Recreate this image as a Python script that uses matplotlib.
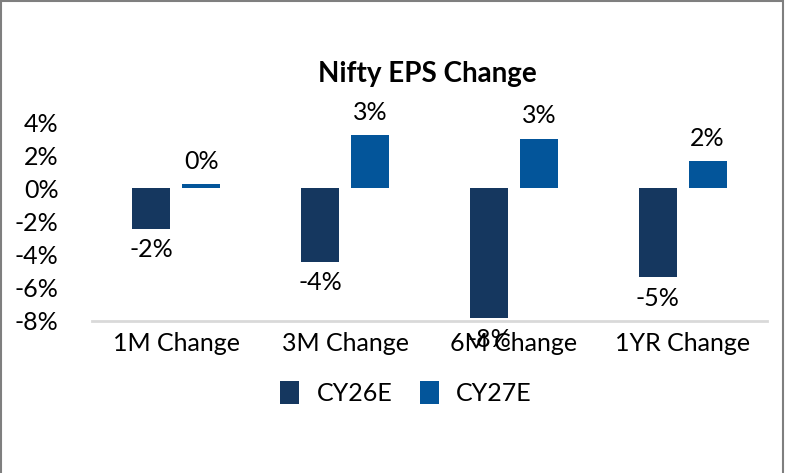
import matplotlib
matplotlib.use("Agg")
import matplotlib.pyplot as plt
from matplotlib.patches import Rectangle
import numpy as np

# ── Données ──
categories = ["1M Change", "3M Change", "6M Change", "1YR Change"]
cy26e = [-2.45, -4.45, -7.85, -5.4]
cy27e = [0.25, 3.2, 3.0, 1.65]
series_names = ["CY26E", "CY27E"]
y_ticks = [-8, -6, -4, -2, 0, 2, 4]

# ── Style ──
plt.rcParams["font.family"] = ["Lato", "DejaVu Sans"]
dark = "#15375F"
blue = "#03559A"
fs = 18

fig = plt.figure(figsize=(7.85, 4.73), dpi=100)
ax = fig.add_axes([92/785, 1 - 320.5/473, (767 - 92)/785, (320.5 - 122)/473])

x = np.arange(len(categories))
w = 0.225
off = 0.148
b1 = ax.bar(x - off, cy26e, w, color=dark, label=series_names[0])
b2 = ax.bar(x + off, cy27e, w, color=blue, label=series_names[1])

# étiquettes de données
for bars in (b1, b2):
    for bar in bars:
        v = bar.get_height()
        cx = bar.get_x() + bar.get_width() / 2
        if v >= 0:
            ax.annotate(f"{v:.0f}%", (cx, v), xytext=(0, 8), textcoords="offset points",
                        ha="center", va="bottom", fontsize=fs)
        else:
            ax.annotate(f"{round(v):.0f}%", (cx, v), xytext=(0, -7), textcoords="offset points",
                        ha="center", va="top", fontsize=fs)

ax.set_xlim(-0.5, 3.5)
ax.set_ylim(-8, 4)
ax.set_yticks(y_ticks)
ax.set_yticklabels([f"{t}%" for t in y_ticks], fontsize=fs)
ax.set_xticks(x)
ax.set_xticklabels(categories, fontsize=fs)
ax.tick_params(axis="y", length=0, pad=24)
ax.tick_params(axis="x", length=0, pad=8)
for s in ["top", "right", "left"]:
    ax.spines[s].set_visible(False)
ax.spines["bottom"].set_color("#D9D9D9")
ax.spines["bottom"].set_linewidth(2)

fig.text(427/785, 1 - 74/473, "Nifty EPS Change", ha="center", va="center",
         fontsize=20, fontweight="bold")

fig.legend(handles=[b1, b2], labels=series_names, loc="center",
           bbox_to_anchor=(406/785, 1 - 393/473), ncol=2, frameon=False,
           fontsize=fs, handlelength=0.75, handleheight=1.0, handletextpad=0.7,
           columnspacing=1.1)

# cadre
fig.add_artist(Rectangle((1/785, -0.05), 782/785, 1.05 - 1/473, transform=fig.transFigure,
                         fill=False, edgecolor="#7F7F7F", linewidth=1.5, clip_on=False))

plt.savefig("out.png", dpi=100)
